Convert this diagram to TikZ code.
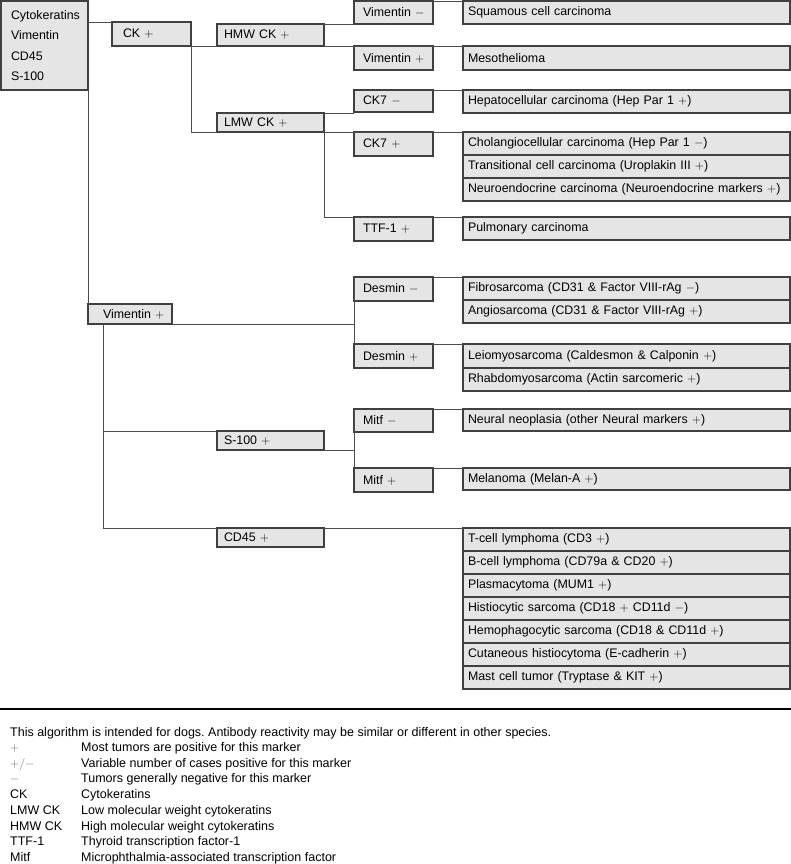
\documentclass[tikz,border=0pt]{standalone}
\usepackage{fontspec}
\setmainfont{Liberation Sans}
\frenchspacing
\usetikzlibrary{positioning}
\tikzstyle{box}=[rectangle, draw=black!75, fill=black!10, line width=1.1pt, outer sep=0pt, inner ysep=0pt, anchor=north west, align=left, font=\fontsize{12.4}{14}\selectfont]
\tikzstyle{res}=[box, inner xsep=5pt, text width=317pt, minimum height=23pt]
\tikzstyle{probe}=[box, inner xsep=4pt, text width=71pt, minimum height=24pt, execute at begin node={\hspace*{5pt}}]
\tikzstyle{test}=[box, inner xsep=7pt, text width=93pt, minimum height=19pt]
\tikzstyle{link}=[draw=black!70, line width=0.9pt]
\tikzstyle{legend}=[anchor=base west, inner sep=0pt, font=\fontsize{12.5}{14}\selectfont]
\tikzstyle{sign}=[legend, text=black!60]

\begin{document}
\begin{tikzpicture}[x=1pt, y=-1pt]
    \useasboundingbox (0,0) rectangle (791,864);
    % first markers
    \node[box, inner xsep=10pt, text width=67pt, minimum height=89pt, font=\fontsize{12.4}{20.3}\selectfont] (root) at (1,1) {Cytokeratins\\Vimentin\\CD45\\S-100};
    \node[box, inner xsep=11pt, text width=57pt, minimum height=24pt] (ck) at (112,22) {CK $+$};
    \node[box, inner xsep=4pt, text width=76pt, minimum height=20pt, execute at begin node={\hspace*{11pt}}] (vim) at (88,304) {Vimentin $+$};

    \node[test, minimum height=22pt] (hmw) at (217,24) {HMW CK $+$};
    \node[test] (lmw) at (217,113) {LMW CK $+$};
    \node[test] (s100) at (217,431) {S-100 $+$};
    \node[test] (cd45) at (217,528) {CD45 $+$};

    \node[probe, minimum height=23pt] (vimn) at (354,1) {Vimentin $-$};
    \node[probe] (vimp) at (354,46) {Vimentin $+$};
    \node[probe, minimum height=22pt] (ck7n) at (354,90) {CK7 $-$};
    \node[probe] (ck7p) at (354,132) {CK7 $+$};
    \node[probe] (ttf) at (354,217) {TTF-1 $+$};
    \node[probe] (desn) at (354,277) {Desmin $-$};
    \node[probe] (desp) at (354,344) {Desmin $+$};
    \node[probe, minimum height=23pt] (mitfn) at (354,409) {Mitf $-$};
    \node[probe] (mitfp) at (354,468) {Mitf $+$};

    % tumours
    \node[res] (scc) at (463,1) {Squamous cell carcinoma};
    \node[res, minimum height=24pt] (meso) at (463,46) {Mesothelioma};
    \node[res] (hcc) at (463,90) {Hepatocellular carcinoma (Hep Par 1 $+$)};
    \node[res] (chol) at (463,132) {Cholangiocellular carcinoma (Hep Par 1 $-$)};
    \node[res, below=0pt of chol] (tcc) {Transitional cell carcinoma (Uroplakin III $+$)};
    \node[res, below=0pt of tcc] (nec) {Neuroendocrine carcinoma (Neuroendocrine markers $+$)};
    \node[res] (pulm) at (463,217) {Pulmonary carcinoma};
    \node[res] (fibro) at (463,277) {Fibrosarcoma (CD31 \& Factor VIII-rAg $-$)};
    \node[res, below=0pt of fibro] (angio) {Angiosarcoma (CD31 \& Factor VIII-rAg $+$)};
    \node[res, minimum height=24pt] (leio) at (463,344) {Leiomyosarcoma (Caldesmon \& Calponin $+$)};
    \node[res, below=0pt of leio] (rhabdo) {Rhabdomyosarcoma (Actin sarcomeric $+$)};
    \node[res, minimum height=22pt] (neural) at (463,409) {Neural neoplasia (other Neural markers $+$)};
    \node[res, minimum height=22pt] (melan) at (463,468) {Melanoma (Melan-A $+$)};
    \node[res] (tcl) at (463,528) {T-cell lymphoma (CD3 $+$)};
    \node[res, below=0pt of tcl] (bcl) {B-cell lymphoma (CD79a \& CD20 $+$)};
    \node[res, below=0pt of bcl] (plasma) {Plasmacytoma (MUM1 $+$)};
    \node[res, below=0pt of plasma] (histio) {Histiocytic sarcoma (CD18 $+$ CD11d $-$)};
    \node[res, below=0pt of histio] (hemo) {Hemophagocytic sarcoma (CD18 \& CD11d $+$)};
    \node[res, below=0pt of hemo] (cuthist) {Cutaneous histiocytoma (E-cadherin $+$)};
    \node[res, below=0pt of cuthist] (mct) {Mast cell tumor (Tryptase \& KIT $+$)};

    % connectors
    \draw[link] (root.east |- ck.north west) -- (ck.north west);
    \draw[link] (ck.south east) -- (hmw.south west);
    \draw[link] (ck.south east) |- (lmw.south west);
    \draw[link] (hmw.north east) -- (hmw.north east -| vimn.west);
    \draw[link] (vimn.north east) -- (scc.north west);
    \draw[link] (hmw.south east) -- (meso.north west);
    \draw[link] (lmw.north east) -- (lmw.north east -| ck7n.west);
    \draw[link] (ck7n.north east) -- (hcc.north west);
    \draw[link] (lmw.south east) -- (chol.north west);
    \draw[link] (lmw.south east) |- (pulm.north west);
    \draw[link] (root.south east) -- (vim.north west);
    \draw[link] (vim.south east) -- (vim.south east -| desn.west);
    \draw[link] (desn.north west) -- (desp.north west);
    \draw[link] (desn.north east) -- (fibro.north west);
    \draw[link] (desp.north east) -- (leio.north west);
    \coordinate (trunk) at ([xshift=15pt]vim.south west);
    \draw[link] (trunk) |- (cd45.north west);
    \draw[link] (trunk |- s100.north west) -- (s100.north west);
    \draw[link] (s100.south east) -- (s100.south east -| mitfn.west);
    \draw[link] (mitfn.north west) -- (mitfp.north west);
    \draw[link] (mitfn.north east) -- (neural.north west);
    \draw[link] (mitfp.north east) -- (melan.north west);
    \draw[link] (cd45.north east) -- (tcl.north west);

    % key
    \draw[line width=1.3pt] (0,709) -- (791,709);
    \node[legend] (note) at (10,736) {This algorithm is intended for dogs. Antibody reactivity may be similar or different in other species.};
    \node[sign] (k1) at (10,751) {$+$};
    \node[legend] (d1) at (81,751) {Most tumors are positive for this marker};
    \node[sign] (k2) at (10,767) {$+/-$};
    \node[legend] (d2) at (81,767) {Variable number of cases positive for this marker};
    \node[sign] (k3) at (10,782) {$-$};
    \node[legend] (d3) at (81,782) {Tumors generally negative for this marker};
    \node[legend] (k4) at (10,798) {CK};
    \node[legend] (d4) at (81,798) {Cytokeratins};
    \node[legend] (k5) at (10,814) {LMW CK};
    \node[legend] (d5) at (81,814) {Low molecular weight cytokeratins};
    \node[legend] (k6) at (10,830) {HMW CK};
    \node[legend] (d6) at (81,830) {High molecular weight cytokeratins};
    \node[legend] (k7) at (10,845) {TTF-1};
    \node[legend] (d7) at (81,845) {Thyroid transcription factor-1};
    \node[legend] (k8) at (10,861) {Mitf};
    \node[legend] (d8) at (81,861) {Microphthalmia-associated transcription factor};
\end{tikzpicture}
\end{document}
